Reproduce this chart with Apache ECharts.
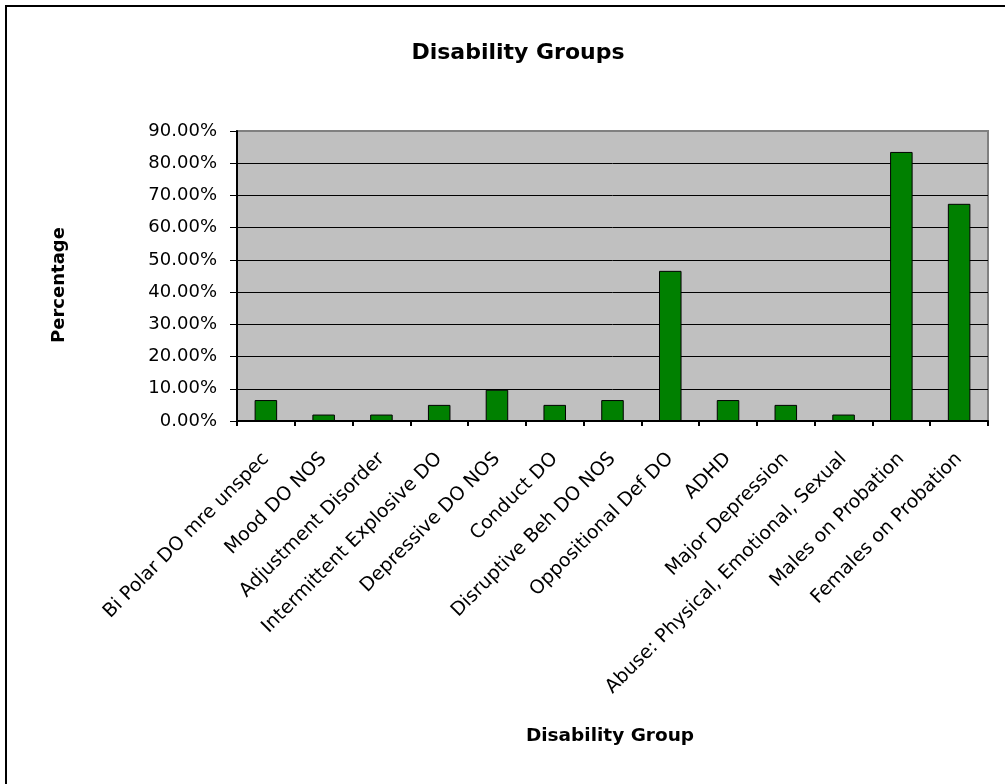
<!DOCTYPE html>
<html>
<head>
<meta charset="utf-8">
<title>Disability Groups</title>
<script src="https://cdn.jsdelivr.net/npm/echarts@6/dist/echarts.min.js"></script>
<style>
  html, body { margin: 0; padding: 0; background: #ffffff; }
  #chart { width: 1005px; height: 784px; }
</style>
</head>
<body>
<div id="chart"></div>
<script>
// Share of youth in each disability group (percent)
const categories = [
  'Bi Polar DO mre unspec',
  'Mood DO NOS',
  'Adjustment Disorder',
  'Intermittent Explosive DO',
  'Depressive DO NOS',
  'Conduct DO',
  'Disruptive Beh DO NOS',
  'Oppositional Def DO',
  'ADHD',
  'Major Depression',
  'Abuse: Physical, Emotional, Sexual',
  'Males on Probation',
  'Females on Probation'
];
const percentages = [6.5, 2.0, 2.0, 5.0, 9.7, 5.0, 6.5, 46.6, 6.5, 5.0, 2.0, 83.5, 67.4];
const yTicks = { min: 0, max: 90, step: 10 };

const chart = echarts.init(document.getElementById('chart'), null, { renderer: 'canvas' });

const labelFont = 'DejaVu Sans, Verdana, sans-serif';

// gridline colours: black inside the plot, grey where the top line meets the frame
const splitColors = [];
for (let v = yTicks.min; v <= yTicks.max; v += yTicks.step) {
  splitColors.push(v === yTicks.max ? '#808080' : '#000000');
}

chart.setOption({
  backgroundColor: '#ffffff',
  animation: false,
  title: {
    text: 'Disability Groups',
    left: 513,
    top: 37,
    textAlign: 'center',
    textStyle: { fontFamily: labelFont, fontWeight: 'bold', fontSize: 22, color: '#000' }
  },
  graphic: [
    {
      type: 'rect',
      shape: { x: 6, y: 6, width: 1200, height: 1000 },
      style: { fill: 'none', stroke: '#000', lineWidth: 2 },
      silent: true,
      z: 100
    },
    {
      type: 'text',
      x: 59,
      y: 285,
      rotation: Math.PI / 2,
      style: {
        text: 'Percentage',
        fontFamily: labelFont,
        fontWeight: 'bold',
        fontSize: 18,
        fill: '#000',
        align: 'center',
        verticalAlign: 'middle'
      }
    },
    {
      type: 'text',
      x: 610,
      y: 736,
      style: {
        text: 'Disability Group',
        fontFamily: labelFont,
        fontWeight: 'bold',
        fontSize: 18.5,
        fill: '#000',
        align: 'center',
        verticalAlign: 'middle'
      }
    }
  ],
  grid: {
    left: 237,
    right: 17,
    top: 131,
    bottom: 363,
    show: true,
    backgroundColor: '#c0c0c0',
    borderColor: '#808080',
    borderWidth: 2
  },
  xAxis: {
    type: 'category',
    data: categories,
    boundaryGap: true,
    axisLine: { show: true, lineStyle: { color: '#000', width: 2 } },
    axisTick: { show: true, length: 5, alignWithLabel: false, lineStyle: { color: '#000', width: 2 } },
    axisLabel: {
      interval: 0,
      rotate: 45,
      margin: 35,
      fontFamily: labelFont,
      fontSize: 19,
      color: '#000'
    },
    splitLine: { show: false }
  },
  yAxis: {
    type: 'value',
    min: yTicks.min,
    max: yTicks.max,
    interval: yTicks.step,
    axisLine: { show: true, lineStyle: { color: '#000', width: 2 } },
    axisTick: { show: true, length: 7, lineStyle: { color: '#000', width: 1 } },
    axisLabel: {
      margin: 20,
      fontFamily: labelFont,
      fontSize: 18,
      color: '#000',
      formatter: v => v.toFixed(2) + '%'
    },
    splitLine: { show: true, lineStyle: { color: splitColors, width: 1 } }
  },
  series: [
    {
      type: 'bar',
      data: percentages,
      barWidth: '39%',
      itemStyle: { color: '#008000', borderColor: '#000', borderWidth: 1 }
    }
  ]
});
</script>
</body>
</html>
